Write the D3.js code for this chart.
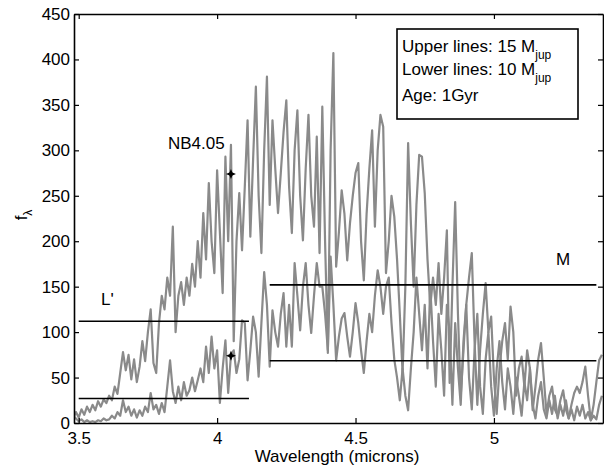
<!DOCTYPE html>
<html>
<head>
<meta charset="utf-8">
<script src="https://cdn.jsdelivr.net/npm/d3@7"></script>
<style>
  body { margin: 0; background: #fff; }
  text { font-family: "Liberation Sans", Arial, sans-serif; }
</style>
</head>
<body>
<div id="myPlot"></div>
<script>
// Wavelength grid (microns)
const wavelengths = [
  3.48, 3.49, 3.50, 3.51, 3.52, 3.53, 3.54, 3.55, 3.56, 3.57,
  3.58, 3.59, 3.60, 3.61, 3.62, 3.63, 3.64, 3.65, 3.66, 3.67,
  3.68, 3.69, 3.70, 3.71, 3.72, 3.73, 3.74, 3.75, 3.76, 3.77,
  3.78, 3.79, 3.80, 3.81, 3.82, 3.83, 3.84, 3.85, 3.86, 3.87,
  3.88, 3.89, 3.90, 3.91, 3.92, 3.93, 3.94, 3.95, 3.96, 3.97,
  3.98, 3.99, 4.00, 4.01, 4.02, 4.03, 4.04, 4.05, 4.06, 4.07,
  4.08, 4.09, 4.10, 4.11, 4.12, 4.13, 4.14, 4.15, 4.16, 4.17,
  4.18, 4.19, 4.20, 4.21, 4.22, 4.23, 4.24, 4.25, 4.26, 4.27,
  4.28, 4.29, 4.30, 4.31, 4.32, 4.33, 4.34, 4.35, 4.36, 4.37,
  4.38, 4.39, 4.40, 4.41, 4.42, 4.43, 4.44, 4.45, 4.46, 4.47,
  4.48, 4.49, 4.50, 4.51, 4.52, 4.53, 4.54, 4.55, 4.56, 4.57,
  4.58, 4.59, 4.60, 4.61, 4.62, 4.63, 4.64, 4.65, 4.66, 4.67,
  4.68, 4.69, 4.70, 4.71, 4.72, 4.73, 4.74, 4.75, 4.76, 4.77,
  4.78, 4.79, 4.80, 4.81, 4.82, 4.83, 4.84, 4.85, 4.86, 4.87,
  4.88, 4.89, 4.90, 4.91, 4.92, 4.93, 4.94, 4.95, 4.96, 4.97,
  4.98, 4.99, 5.00, 5.01, 5.02, 5.03, 5.04, 5.05, 5.06, 5.07,
  5.08, 5.09, 5.10, 5.11, 5.12, 5.13, 5.14, 5.15, 5.16, 5.17,
  5.18, 5.19, 5.20, 5.21, 5.22, 5.23, 5.24, 5.25, 5.26, 5.27,
  5.28, 5.29, 5.30, 5.31, 5.32, 5.33, 5.34, 5.35, 5.36, 5.37,
  5.38, 5.39
];

// 15 Mjup spectrum (upper)
const flux15 = [
  5, 12, 6, 15, 9, 18, 12, 20, 14, 24,
  18, 26, 22, 30, 25, 40, 32, 55, 78, 58,
  75, 48, 70, 45, 62, 90, 68, 100, 125, 66,
  55, 110, 140, 125, 160, 140, 216, 100, 140, 155,
  130, 160, 140, 175, 150, 200, 160, 231, 180, 264,
  200, 165, 278, 210, 143, 293, 200, 306, 90, 200,
  253, 190, 260, 333, 205, 290, 370, 250, 187, 300,
  381, 240, 333, 280, 231, 275, 320, 355, 260, 209,
  300, 344, 250, 201, 280, 339, 250, 216, 315, 187,
  348, 200, 77, 300, 407, 172, 210, 256, 230, 179,
  220, 250, 275, 286, 200, 157, 230, 280, 322, 216,
  300, 339, 326, 165, 200, 250, 227, 180, 120, 55,
  150, 308, 220, 150, 240, 295, 293, 253, 180, 128,
  160, 130, 176, 120, 160, 212, 44, 150, 243, 120,
  30, 80, 130, 160, 187, 90, 20, 80, 120, 154,
  100, 117, 50, 10, 60, 90, 110, 70, 128, 100,
  30, 60, 73, 40, 80, 60, 14, 40, 70, 88,
  50, 10, 30, 40, 15, 8, 25, 36, 15, 5,
  20, 33, 40, 33, 45, 62, 30, 3, 20, 45,
  69, 75
];

// 10 Mjup spectrum (lower)
const flux10 = [
  8, 5, 2, 4, 1, 3, 1, 2, 1, 3,
  2, 5, 3, 4, 8, 5, 12, 8, 25, 12,
  18, 8, 15, 6, 14, 8, 18, 12, 33, 15,
  20, 10, 22, 12, 40, 69, 35, 22, 40, 25,
  45, 30, 36, 50, 35, 47, 60, 45, 84, 55,
  95, 60, 80, 22, 60, 91, 33, 75, 80, 55,
  70, 113, 110, 47, 80, 117, 100, 51, 110, 166,
  130, 62, 124, 100, 84, 120, 143, 84, 130, 84,
  176, 140, 102, 150, 176, 130, 99, 140, 176, 150,
  150, 120, 80, 183, 130, 69, 95, 115, 121, 95,
  73, 100, 132, 110, 80, 55, 90, 120, 100, 140,
  168, 150, 120, 150, 160, 110, 70, 50, 25, 60,
  30, 14, 60, 100, 160, 120, 80, 130, 60, 150,
  90, 40, 120, 80, 30, 130, 100, 20, 110, 60,
  20, 90, 130, 50, 15, 80, 120, 40, 10, 70,
  100, 40, 8, 60, 90, 45, 15, 60, 40, 10,
  50, 30, 8, 45, 25, 60, 20, 5, 30, 45,
  15, 5, 25, 10, 30, 5, 20, 8, 25, 5,
  15, 3, 18, 8, 20, 5, 12, 3, 8, 4,
  20, 30
];

// Band-averaged fluxes: [start, end, value]
const bandLines = [
  [3.5, 4.115, 112],
  [3.5, 4.115, 27],
  [4.19, 5.37, 152],
  [4.19, 5.37, 68.5]
];
// NB4.05 points
const nbPoints = [[4.05, 274], [4.05, 74]];

const xTicks = [3.5, 4, 4.5, 5];
const yTicks = [0, 50, 100, 150, 200, 250, 300, 350, 400, 450];

// Set Dimensions
const xSize = 604, ySize = 466;
const margin = { left: 74, top: 14, right: 1, bottom: 43 };
const xMax = xSize - margin.left - margin.right;
const yMax = ySize - margin.top - margin.bottom;
const fontSize = "17px";

const svg = d3.select("#myPlot")
  .append("svg")
  .attr("width", xSize)
  .attr("height", ySize)
  .append("g")
  .attr("transform", "translate(" + margin.left + "," + margin.top + ")");

const x = d3.scaleLinear().domain([3.483, 5.394]).range([0, xMax]);
const y = d3.scaleLinear().domain([0, 450]).range([yMax, 0]);

svg.append("clipPath").attr("id", "clip")
  .append("rect").attr("width", xMax).attr("height", yMax);

// Spectra
const line = d3.line().x(d => x(d[0])).y(d => y(d[1]));
const plot = svg.append("g").attr("clip-path", "url(#clip)");
[flux15, flux10].forEach(series => {
  plot.append("path")
    .datum(wavelengths.map((w, i) => [w, series[i]]))
    .attr("d", line)
    .attr("fill", "none")
    .attr("stroke", "#8a8a8a")
    .attr("stroke-width", 2.2)
    .attr("stroke-linejoin", "round");
});

// Band lines
plot.selectAll(".band")
  .data(bandLines)
  .enter()
  .append("line")
  .attr("x1", d => x(d[0]))
  .attr("x2", d => x(d[1]))
  .attr("y1", d => y(d[2]))
  .attr("y2", d => y(d[2]))
  .attr("stroke", "#000")
  .attr("stroke-width", 1.6);

// NB4.05 markers (four-point star)
const star4 = {
  draw(ctx, size) {
    const r = Math.sqrt(size) / 2, s = r * 0.3;
    ctx.moveTo(0, -r); ctx.lineTo(s, -s); ctx.lineTo(r, 0); ctx.lineTo(s, s);
    ctx.lineTo(0, r); ctx.lineTo(-s, s); ctx.lineTo(-r, 0); ctx.lineTo(-s, -s);
    ctx.closePath();
  }
};
svg.selectAll(".nb")
  .data(nbPoints)
  .enter()
  .append("path")
  .attr("d", d3.symbol().type(star4).size(100))
  .attr("transform", d => "translate(" + x(d[0]) + "," + y(d[1]) + ")")
  .attr("fill", "#000");

// Axes (box with inward ticks)
const axisStyle = g => {
  g.select(".domain").attr("stroke-width", 1.6);
  g.selectAll(".tick line").attr("stroke-width", 1.2);
  g.selectAll("text").style("font-family", "Liberation Sans, Arial, sans-serif")
    .style("font-size", fontSize).attr("fill", "#000");
};
svg.append("g")
  .attr("transform", "translate(0," + yMax + ")")
  .call(d3.axisBottom(x).tickValues(xTicks).tickFormat(d3.format("")).tickSizeInner(-5).tickSizeOuter(0).tickPadding(9))
  .call(axisStyle);
svg.append("g")
  .call(d3.axisTop(x).tickValues(xTicks).tickFormat("").tickSizeInner(-5).tickSizeOuter(0))
  .call(axisStyle);
svg.append("g")
  .call(d3.axisLeft(y).tickValues(yTicks).tickSizeInner(-5).tickSizeOuter(0).tickPadding(4))
  .call(axisStyle);
svg.append("g")
  .attr("transform", "translate(" + xMax + ",0)")
  .call(d3.axisRight(y).tickValues(yTicks).tickFormat("").tickSizeInner(-5).tickSizeOuter(0))
  .call(axisStyle);

// Axis labels
svg.append("text")
  .attr("x", 263).attr("y", yMax + 39)
  .attr("text-anchor", "middle")
  .style("font-size", fontSize)
  .text("Wavelength (microns)");

const yl = svg.append("text")
  .attr("transform", "translate(" + (-47) + "," + 201 + ") rotate(-90)")
  .attr("text-anchor", "middle")
  .style("font-size", fontSize);
yl.append("tspan").text("f");
yl.append("tspan").attr("dy", 5).style("font-size", "12px").text("λ");

// Band labels
svg.append("text").attr("x", 94).attr("y", 135).style("font-size", fontSize).text("NB4.05");
svg.append("text").attr("x", 27).attr("y", 291).style("font-size", fontSize).text("L'");
svg.append("text").attr("x", 482).attr("y", 251).style("font-size", fontSize).text("M");

// Legend box
const legend = svg.append("g").attr("transform", "translate(" + (397 - margin.left) + "," + (29 - margin.top) + ")");
legend.append("rect")
  .attr("width", 181).attr("height", 90)
  .attr("fill", "#fff").attr("stroke", "#000").attr("stroke-width", 1.6);
const legendRows = [["Upper lines: 15 M", "jup"], ["Lower lines: 10 M", "jup"], ["Age: 1Gyr", ""]];
const legendY = [23, 46, 72];
legendRows.forEach((r, i) => {
  const t = legend.append("text").attr("x", 5).attr("y", legendY[i]).style("font-size", fontSize);
  t.append("tspan").text(r[0]);
  if (r[1]) t.append("tspan").attr("dy", 7).style("font-size", "12px").text(r[1]);
});
</script>
</body>
</html>
